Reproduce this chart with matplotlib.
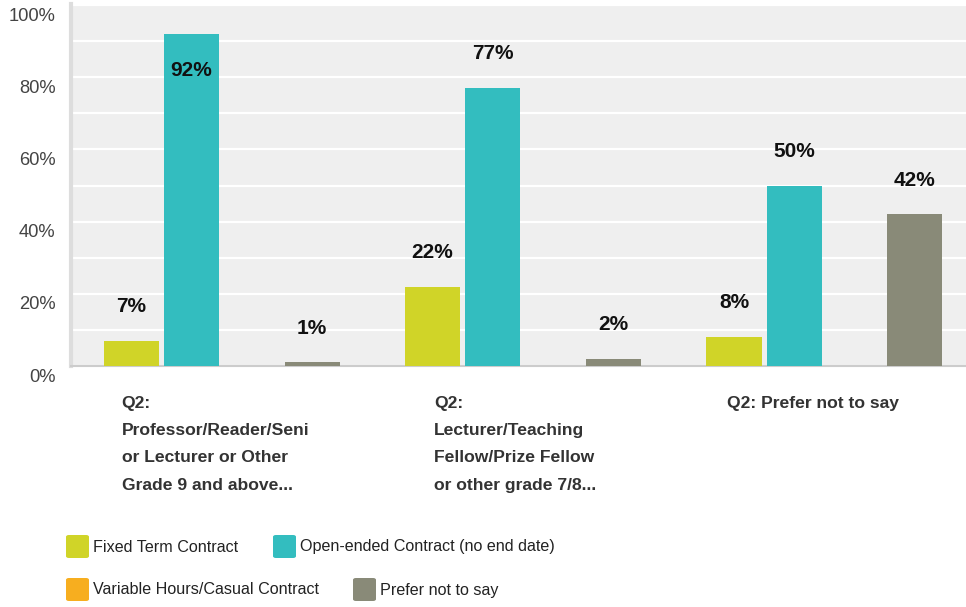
import matplotlib.pyplot as plt
import numpy as np
from matplotlib.patches import FancyBboxPatch
import matplotlib.transforms as mtransforms

# ---------------------------------------------------------------------------
# Data
# ---------------------------------------------------------------------------

CATEGORIES = [
    "Q2:\nProfessor/Reader/Seni\nor Lecturer or Other\nGrade 9 and above...",
    "Q2:\nLecturer/Teaching\nFellow/Prize Fellow\nor other grade 7/8...",
    "Q2: Prefer not to say",
]
SERIES = [
    "Fixed Term Contract",
    "Open-ended Contract (no end date)",
    "Variable Hours/Casual Contract",
    "Prefer not to say",
]
FIXED_TERM = [7, 22, 8]
OPEN_ENDED = [92, 77, 50]
VARIABLE = [0, 0, 0]
PREFER_NOT = [1, 2, 42]

COLORS = ["#d0d428", "#33bdbf", "#f7ae1f", "#898a78"]

plt.rcParams["font.family"] = ["Liberation Sans", "DejaVu Sans"]

fig = plt.figure(figsize=(9.66, 6.07), dpi=100)
W, H = 966, 607
ax = fig.add_axes([71 / W, 1 - 366 / H, 1 - 71 / W, (366 - 4) / H])
ax.set_facecolor("#efefef")

x = np.arange(len(CATEGORIES))
step = 0.2
width = 0.183
values = [FIXED_TERM, OPEN_ENDED, VARIABLE, PREFER_NOT]
for i, (vals, color) in enumerate(zip(values, COLORS)):
    pos = x + (i - 1.5) * step
    ax.bar(pos, vals, width=width, color=color, zorder=3)
    for p, v in zip(pos, vals):
        if v <= 0:
            continue
        ty = v + 9.5 if v + 9.5 < 97 else v - 10
        ax.text(p, ty, f"{v}%", ha="center", va="center",
                fontsize=15, fontweight="bold", color="#111111", zorder=4)

ax.set_xlim(-0.5, 2.47)
ax.set_ylim(0, 100.3)
ax.set_axisbelow(True)
ax.set_yticks(np.arange(0, 101, 20))
ax.set_yticks(np.arange(10, 100, 20), minor=True)
ax.yaxis.grid(True, which="both", color="white", linewidth=1.6)
ax.set_yticklabels([f"{v}%" for v in range(0, 101, 20)])
ax.tick_params(axis="y", which="both", length=0, pad=11,
               labelsize=13.2, labelcolor="#444444")
offset = mtransforms.ScaledTranslation(0, -9 / 100, fig.dpi_scale_trans)
for lbl in ax.get_yticklabels():
    lbl.set_transform(lbl.get_transform() + offset)
ax.set_xticks([])

for s in ["top", "right"]:
    ax.spines[s].set_visible(False)
ax.spines["left"].set_color("#dddddd")
ax.spines["left"].set_linewidth(3)
ax.spines["bottom"].set_color("#cccccc")
ax.spines["bottom"].set_linewidth(1.5)

# category labels below the axis (left-aligned text blocks)
label_shift = [-0.332, -0.296, -0.322]
for xi, cat, dx in zip(x, CATEGORIES, label_shift):
    ax.text(xi + dx, -8.3, cat, ha="left", va="top", fontsize=12.6,
            fontweight="bold", color="#333333", linespacing=2.02,
            transform=ax.transData, clip_on=False)

# legend (flowing layout, two rows)
legend_pos = [(66, 547), (273, 547), (66, 590), (353, 590)]
for (px, py), name, color in zip(legend_pos, SERIES, COLORS):
    fig.patches.append(FancyBboxPatch(
        (px / W, 1 - (py + 11) / H), 23 / W, 23 / H,
        boxstyle="round,pad=0,rounding_size=0.003",
        transform=fig.transFigure, facecolor=color, edgecolor="none"))
    fig.text((px + 27) / W, 1 - py / H, name, ha="left", va="center",
             fontsize=11.6, color="#222222")

fig.savefig("out.png", dpi=100)
